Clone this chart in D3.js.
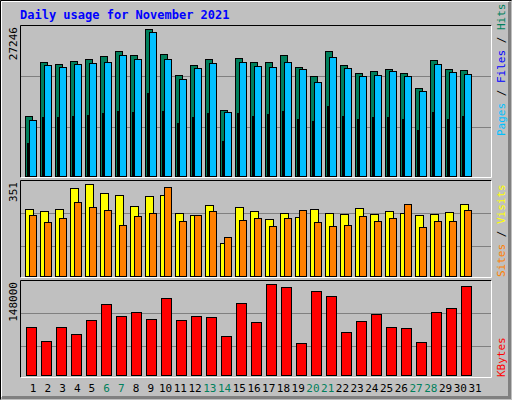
<!DOCTYPE html>
<html><head><meta charset="utf-8">
<script src="https://cdn.jsdelivr.net/npm/d3@7"></script>
<style>body{margin:0;background:#fff}</style>
</head><body>
<script>
var days = d3.range(1, 32);
var weekends = [6, 7, 13, 14, 20, 21, 27, 28];
var hits  = [11065,21130,20703,21260,21630,22186,23113,22371,27246,22557,18664,20518,21630,12177,21815,21130,21130,22371,20147,18479,23113,20518,19035,19406,19777,19035,16255,21445,19777,19591];
var files = [10324,20518,20147,20703,20889,21074,22371,21630,26634,21630,17923,19962,20889,11807,21074,20333,20147,21074,19777,17367,22001,19962,18479,18664,19406,18479,15699,20703,19221,18850];
var pages = [6061,10880,10936,11121,11306,11677,12048,11862,15384,12048,9824,10936,11677,6487,11677,11121,11492,12048,10565,10194,12975,11121,10565,10936,10936,10565,8526,11862,10565,11121];
var visits = [256,249,256,336,351,317,309,268,306,309,241,234,272,124,264,249,218,241,226,256,241,237,260,237,249,241,234,237,245,275];
var sites  = [234,207,222,283,264,253,196,230,241,340,211,234,249,147,215,222,192,222,253,207,192,196,230,211,222,275,188,211,211,253];
var kbytes = [78240,55560,78240,66900,89580,115500,96060,102540,91200,125200,89580,96060,94440,63660,117100,86340,148000,143000,52320,136600,128500,70140,87960,99300,78240,76620,53940,102540,109000,144700];

var W = 512, H = 400;
var svg = d3.select("body").append("svg").attr("width", W).attr("height", H)
    .style("font-family", "'DejaVu Sans Mono', monospace");

svg.append("rect").attr("width", W).attr("height", H).attr("fill", "#c0c0c0");
// bevel
svg.append("path").attr("d", "M0.5,399.5V0.5H511.5").attr("stroke", "#000").attr("fill", "none");
svg.append("path").attr("d", "M1.5,397V1.5H509").attr("stroke", "#fff").attr("fill", "none");
svg.append("path").attr("d", "M509.5,2V397.5H2").attr("stroke", "#808080").attr("stroke-width", 3).attr("fill", "none");

svg.append("text").attr("x", 20).attr("y", 19).attr("fill", "#0000ff")
    .attr("font-weight", "bold").attr("font-size", 12).text("Daily usage for November 2021");

var x = d3.scaleLinear().domain([1, 30]).range([25, 460]);

function panel(top, bottom, maxLabel) {
    svg.append("path").attr("d", "M20.5," + bottom + ".5V" + top + ".5H491.5")
        .attr("stroke", "#000").attr("fill", "none");
    svg.append("path").attr("d", "M491.5," + top + ".5V" + bottom + ".5H20.5")
        .attr("stroke", "#fff").attr("fill", "none");
    svg.append("text").attr("transform", "translate(17," + (top + 2) + ") rotate(-90)")
        .attr("text-anchor", "end").attr("font-size", 11).attr("fill", "#000").text(maxLabel);
}

function grid(ys) {
    ys.forEach(function(gy) {
        svg.append("line").attr("x1", 21).attr("x2", 491).attr("y1", gy + 0.5).attr("y2", gy + 0.5)
            .attr("stroke", "#808080");
    });
}

function bars(data, scale, dx, w, color) {
    svg.append("g").selectAll("rect").data(data).join("rect")
        .attr("x", function(d, i) { return x(i + 1) + dx + 0.5; })
        .attr("y", function(d) { return Math.round(scale(d)) + 0.5; })
        .attr("width", w)
        .attr("height", function(d) { return scale.range()[0] - Math.round(scale(d)); })
        .attr("fill", color).attr("stroke", "#000");
}

// top panel
panel(25, 177, "27246");
grid([76, 127]);
var y1 = d3.scaleLinear().domain([0, 27246]).range([176, 29]);
bars(hits, y1, 0, 7, "#00805c");
bars(files, y1, 4, 7, "#00c0ff");
bars(pages, y1, 2, 1, "#0000ff");

// middle panel
panel(180, 277, "351");
grid([213, 246]);
var y2 = d3.scaleLinear().domain([0, 351]).range([276, 184]);
bars(visits, y2, 0, 8, "#ffff00");
bars(sites, y2, 4, 7, "#ff8000");

// bottom panel
panel(280, 377, "148000");
grid([313, 346]);
var y3 = d3.scaleLinear().domain([0, 148000]).range([375, 284]);
bars(kbytes, y3, 1, 10, "#ff0000");

// day labels
var xl = d3.scaleLinear().domain([1, 31]).range([33, 475]);
svg.append("g").selectAll("text").data(days).join("text")
    .attr("x", function(d) { return xl(d); }).attr("y", 392)
    .attr("text-anchor", "middle").attr("font-size", 11)
    .attr("fill", function(d) { return weekends.indexOf(d) >= 0 ? "#00805c" : "#000"; })
    .text(function(d) { return d; });

// right legends
function legend(yBottom, parts) {
    var t = svg.append("text").attr("transform", "translate(505," + yBottom + ") rotate(-90)")
        .attr("font-size", 11);
    parts.forEach(function(p) { t.append("tspan").attr("fill", p[1]).text(p[0]); });
}
legend(136, [["Pages", "#00c0ff"], [" / ", "#000"], ["Files", "#0000ff"], [" / ", "#000"], ["Hits", "#00805c"]]);
legend(277, [["Sites", "#ff8000"], [" / ", "#000"], ["Visits", "#ffff00"]]);
legend(377, [["KBytes", "#ff0000"]]);
</script>
</body></html>
